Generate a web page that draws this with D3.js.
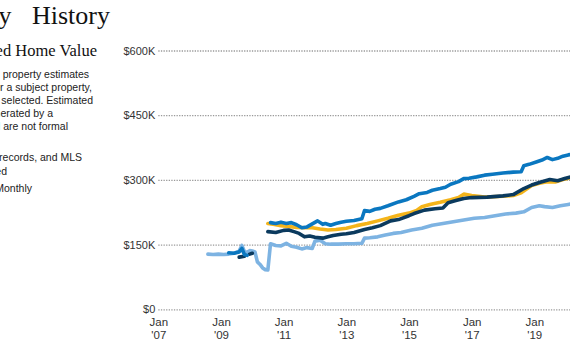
<!DOCTYPE html>
<html>
<head>
<meta charset="utf-8">
<script src="https://cdn.jsdelivr.net/npm/d3@7"></script>
<style>
  html, body { margin: 0; padding: 0; background: #fff; overflow: hidden; }
  .vis-history { width: 570px; height: 350px; }
</style>
</head>
<body>
<div class="vis-history"></div>
<script>
// values in thousands of dollars, [month, value]; null marks a gap
const lightBlueSeries = [
  ["2008-08", 128], ["2008-10", 127], ["2008-12", 128], ["2009-02", 127], ["2009-04", 128],
  ["2009-06", 130], ["2009-08", 135], ["2009-09", 148], ["2009-10", 134], ["2009-11", 132],
  ["2009-12", 136], ["2010-01", 135], ["2010-02", 133], ["2010-03", 110], ["2010-04", 104],
  ["2010-05", 96], ["2010-06", 92], ["2010-07", 91], ["2010-08", 152], ["2010-10", 148],
  ["2010-12", 147], ["2011-02", 153], ["2011-04", 146], ["2011-06", 144], ["2011-08", 140],
  ["2011-10", 143], ["2011-12", 141], ["2012-01", 158], ["2012-03", 160], ["2012-05", 152],
  ["2012-07", 151], ["2012-10", 151], ["2013-01", 152], ["2013-04", 152], ["2013-07", 153],
  ["2013-08", 165], ["2013-10", 166], ["2014-01", 168], ["2014-04", 172], ["2014-07", 176],
  ["2014-10", 178], ["2015-02", 184], ["2015-06", 188], ["2015-10", 195], ["2016-02", 199],
  ["2016-06", 203], ["2016-10", 207], ["2017-02", 211], ["2017-06", 213], ["2017-10", 217],
  ["2018-02", 221], ["2018-06", 223], ["2018-09", 226], ["2018-12", 236], ["2019-03", 240],
  ["2019-05", 238], ["2019-08", 236], ["2019-11", 240], ["2020-02", 243], ["2020-04", 245]
];
const mediumBlueSeries = [
  ["2009-04", 131], ["2009-06", 130], ["2009-08", 133], ["2009-09", 141], ["2009-10", 127],
  ["2009-11", 125], null,
  ["2010-08", 201], ["2010-10", 199], ["2010-12", 202], ["2011-02", 199], ["2011-04", 201],
  ["2011-06", 196], ["2011-08", 189], ["2011-10", 191], ["2011-12", 198], ["2012-02", 205],
  ["2012-04", 197], ["2012-05", 199], ["2012-07", 195], ["2012-09", 199], ["2012-11", 202],
  ["2013-01", 204], ["2013-04", 206], ["2013-07", 210], ["2013-08", 229], ["2013-10", 227],
  ["2013-12", 232], ["2014-02", 234], ["2014-05", 240], ["2014-09", 249], ["2014-12", 254],
  ["2015-03", 262], ["2015-05", 268], ["2015-08", 271], ["2015-10", 276], ["2016-01", 280],
  ["2016-03", 283], ["2016-05", 290], ["2016-08", 296], ["2016-10", 303], ["2016-12", 304],
  ["2017-03", 307], ["2017-06", 311], ["2017-09", 313], ["2018-01", 316], ["2018-05", 318],
  ["2018-08", 319], ["2018-09", 333], ["2018-11", 336], ["2019-02", 342], ["2019-04", 346],
  ["2019-06", 352], ["2019-08", 347], ["2019-10", 350], ["2019-12", 355], ["2020-02", 358],
  ["2020-04", 360]
];
const yellowSeries = [
  ["2010-07", 199], ["2010-09", 197], ["2010-12", 194], ["2011-03", 192], ["2011-06", 190],
  ["2011-09", 189], ["2011-12", 189], ["2012-03", 186], ["2012-06", 184], ["2012-09", 185],
  ["2013-01", 188], ["2013-05", 194], ["2013-09", 199], ["2014-01", 205], ["2014-05", 211],
  ["2014-09", 218], ["2015-01", 223], ["2015-04", 229], ["2015-06", 238], ["2015-09", 243],
  ["2016-01", 248], ["2016-05", 254], ["2016-08", 259], ["2016-10", 267], ["2017-01", 264],
  ["2017-06", 260], ["2018-01", 262], ["2018-05", 264], ["2018-08", 270], ["2018-12", 287],
  ["2019-03", 292], ["2019-06", 296], ["2019-09", 295], ["2019-12", 301], ["2020-03", 305]
];
const navySeries = [
  ["2009-08", 121], ["2009-10", 123], null, ["2009-12", 128], ["2010-01", 130], null,
  ["2010-07", 180], ["2010-10", 178], ["2011-01", 183], ["2011-03", 184], ["2011-05", 180],
  ["2011-07", 176], ["2011-09", 168], ["2011-11", 170], ["2012-01", 167], ["2012-04", 165],
  ["2012-06", 168], ["2012-08", 171], ["2012-11", 174], ["2013-01", 175], ["2013-04", 178],
  ["2013-08", 185], ["2013-11", 189], ["2014-02", 194], ["2014-06", 205], ["2014-09", 208],
  ["2015-01", 217], ["2015-03", 222], ["2015-07", 230], ["2015-11", 233], ["2016-02", 235],
  ["2016-04", 247], ["2016-07", 252], ["2016-10", 257], ["2017-01", 259], ["2017-07", 260],
  ["2018-01", 263], ["2018-05", 266], ["2018-09", 280], ["2018-12", 288], ["2019-03", 294],
  ["2019-07", 301], ["2019-10", 298], ["2020-01", 304], ["2020-03", 307]
];
const yTickValues = [0, 150, 300, 450, 600];
const xTickYears = [2007, 2009, 2011, 2013, 2015, 2017, 2019];

const paragraphLines = [
  "Comparable property estimates",
  "for a subject property,",
  "as selected. Estimated",
  "generated by a",
  "and are not formal",
  "public records, and MLS",
  "updated",
  "Monthly"
];

const config = {
  "text-color": "#333",
  "grid-color": "#9a9a9a",
  "series-colors": ["#7db3e2", "#f4b41a", "#0b3a5e", "#0a77c0"]
};

const draw = () => {
  const width = 570, height = 350;
  const svg = d3.select(".vis-history")
    .append("svg")
    .attr("width", width)
    .attr("height", height);

  // left side heading, cut by the frame
  svg.append("text")
    .attr("x", 110)
    .attr("y", 24)
    .attr("text-anchor", "end")
    .style("font-family", "'Liberation Serif', serif")
    .style("font-size", "26px")
    .style("word-spacing", "14px")
    .attr("fill", "#111")
    .text("Property History");

  svg.append("text")
    .attr("x", 97)
    .attr("y", 56)
    .attr("text-anchor", "end")
    .style("font-family", "'Liberation Serif', serif")
    .style("font-size", "16.5px")
    .attr("fill", "#111")
    .text("Estimated Home Value");

  const lineRight = [89, 92, 93, 53, 68, 82, 7, 32];
  const lineY = [77.5, 90.5, 103.5, 117, 130, 160.5, 174.5, 191.5];
  svg.append("g")
    .selectAll("text")
    .data(paragraphLines)
    .enter()
    .append("text")
    .attr("x", (d, i) => lineRight[i])
    .attr("y", (d, i) => lineY[i])
    .attr("text-anchor", "end")
    .style("font-family", "'Liberation Sans', Arial, sans-serif")
    .style("font-size", "10.5px")
    .attr("fill", "#222")
    .text(d => d);

  // scales
  const left = 158.3, bottom = 309.3, top = 50.5;
  const x = d3.scaleTime()
    .domain([new Date(2007, 0, 1), new Date(2020, 0, 1)])
    .range([left, left + 13 * 31.33]);
  const y = d3.scaleLinear()
    .domain([0, 600])
    .range([bottom, top]);

  // y axis with dotted grid
  const yAxis = svg.append("g")
    .attr("transform", `translate(${left},0)`)
    .call(d3.axisLeft(y)
      .tickValues(yTickValues)
      .tickSizeInner(-(width - left))
      .tickSizeOuter(0)
      .tickPadding(3)
      .tickFormat(d => "$" + (d === 0 ? "0" : d + "K")));
  yAxis.select(".domain").remove();
  yAxis.selectAll("line")
    .attr("stroke", config["grid-color"])
    .attr("stroke-width", 1.3)
    .attr("stroke-dasharray", "1.3,1.3");
  yAxis.selectAll("text")
    .attr("fill", config["text-color"])
    .style("font-family", "'Liberation Sans', Arial, sans-serif")
    .style("font-size", "11px");

  // x axis, two line labels
  const xAxis = svg.append("g")
    .attr("transform", `translate(0,${bottom})`)
    .call(d3.axisBottom(x)
      .tickValues(xTickYears.map(yr => new Date(yr, 0, 1)))
      .tickSize(0)
      .tickPadding(0)
      .tickFormat(""));
  xAxis.select(".domain").remove();
  const tickText = xAxis.selectAll(".tick text")
    .attr("fill", config["text-color"])
    .attr("y", 0)
    .attr("dy", null)
    .style("font-family", "'Liberation Sans', Arial, sans-serif")
    .style("font-size", "11.5px");
  tickText.append("tspan").attr("x", 0).attr("y", 17).text("Jan");
  tickText.append("tspan").attr("x", 0).attr("y", 30)
    .text(d => "'" + String(d.getFullYear()).slice(2));

  // lines
  const parse = d3.timeParse("%Y-%m");
  const line = d3.line()
    .defined(d => d !== null)
    .x(d => x(parse(d[0])))
    .y(d => y(d[1]));

  const allSeries = [lightBlueSeries, yellowSeries, navySeries, mediumBlueSeries];
  const colorOrder = [0, 1, 2, 3];
  svg.append("g")
    .selectAll("path")
    .data(allSeries)
    .enter()
    .append("path")
    .attr("d", d => line(d))
    .attr("fill", "none")
    .attr("stroke", (d, i) => config["series-colors"][colorOrder[i]])
    .attr("stroke-width", 3.6)
    .attr("stroke-linejoin", "round")
    .attr("stroke-linecap", "round");

  return svg;
};

draw();
</script>
</body>
</html>
